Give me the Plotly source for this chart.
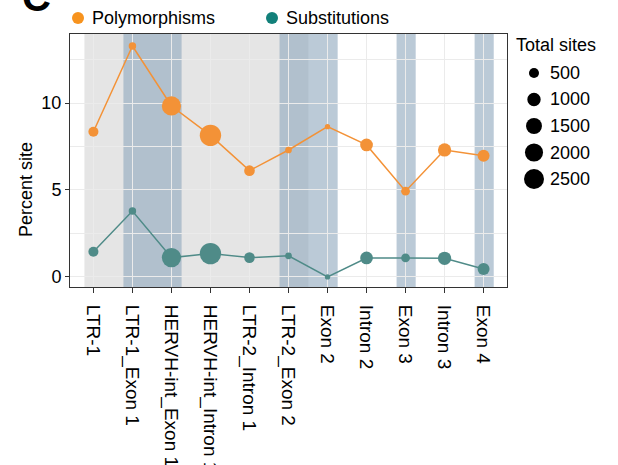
import numpy as np
import plotly.graph_objects as go

regions = ['LTR-1', 'LTR-1_Exon 1', 'HERVH-int_Exon 1', 'HERVH-int_Intron 1',
           'LTR-2_Intron 1', 'LTR-2_Exon 2', 'Exon 2', 'Intron 2', 'Exon 3',
           'Intron 3', 'Exon 4']
polymorphisms = [8.35, 13.28, 9.83, 8.14, 6.11, 7.30, 8.64, 7.59, 4.93, 7.30, 6.97]
substitutions = [1.45, 3.79, 1.11, 1.34, 1.11, 1.21, 0.0, 1.09, 1.09, 1.07, 0.46]
total_sites = [500, 230, 2300, 2900, 580, 170, 85, 880, 350, 980, 770]
size_breaks = [500, 1000, 1500, 2000, 2500]

# background structure bands (category units)
grey_band = (-0.23, 5.51)
exon_bands = [(0.77, 2.26), (4.77, 6.26), (7.77, 8.26), (9.77, 10.26)]

ORANGE = '#f39237'
TEAL = '#4f8b88'
FONT = 'Liberation Sans, Arial, sans-serif'

# plot area in pixels
L, R, T, B = 70, 507, 34, 287


def px_x(p):
    return (p - L) / (R - L)


def px_y(p):
    return (B - p) / (B - T)


def diam(n):
    return 2 + 0.36 * np.sqrt(n)


x = list(range(len(regions)))
sizes = [diam(n) for n in total_sites]

fig = go.Figure()
for vals, col in [(polymorphisms, ORANGE), (substitutions, TEAL)]:
    fig.add_trace(go.Scatter(
        x=x, y=vals, mode='lines+markers',
        line=dict(color=col, width=1.5),
        marker=dict(color=col, size=sizes, sizemode='diameter', opacity=1, line=dict(width=0)),
        showlegend=False, hoverinfo='skip'))

shapes = [dict(type='rect', xref='x', yref='paper', x0=grey_band[0], x1=grey_band[1],
               y0=0, y1=1, fillcolor='#e5e5e5', line_width=0, layer='between')]
for a, b in exon_bands:
    shapes.append(dict(type='rect', xref='x', yref='paper', x0=a, x1=b, y0=0, y1=1,
                       fillcolor='rgb(142,167,189)', opacity=0.6, line_width=0,
                       layer='between'))

annotations = []


def dot(cx, cy, d, col):
    shapes.append(dict(type='circle', xref='paper', yref='paper',
                       xsizemode='pixel', ysizemode='pixel',
                       xanchor=px_x(cx), yanchor=px_y(cy),
                       x0=-d / 2, x1=d / 2, y0=-d / 2, y1=d / 2,
                       fillcolor=col, line_width=0))


def label(tx, ty, text, size=18, xanchor='left'):
    annotations.append(dict(text=text, xref='paper', yref='paper', x=px_x(tx), y=px_y(ty),
                            xanchor=xanchor, yanchor='middle', showarrow=False,
                            font=dict(family=FONT, size=size, color='black')))


# top legend
dot(78, 18, 12, '#f7931e')
label(90, 18, 'Polymorphisms')
dot(272, 18, 12, '#12807a')
label(284, 18, 'Substitutions')

# size legend
label(514, 45, 'Total sites')
for i, n in enumerate(size_breaks):
    cy = 73 + i * 26.5
    dot(534, cy, diam(n), 'black')
    label(548, cy, str(n))

# y axis title
annotations.append(dict(text='Percent site', xref='paper', yref='paper', x=px_x(26), y=px_y(190),
                        textangle=-90, xanchor='center', yanchor='middle', showarrow=False,
                        font=dict(family=FONT, size=18, color='black')))
# panel letter
annotations.append(dict(text='<b>C</b>', xref='paper', yref='paper', x=px_x(36), y=px_y(-3),
                        xanchor='center', yanchor='middle', showarrow=False,
                        font=dict(family=FONT, size=40, color='black')))

fig.update_layout(
    width=618, height=465,
    margin=dict(l=L, r=618 - R, t=T, b=465 - B),
    plot_bgcolor='white', paper_bgcolor='white',
    font=dict(family=FONT, size=18, color='black'),
    shapes=shapes, annotations=annotations,
    showlegend=False,
    xaxis=dict(range=[-0.6, 10.6], tickvals=x, ticktext=regions, tickangle=90,
               showgrid=True, gridcolor='#ebebeb', gridwidth=1, automargin=False,
               ticks='outside', ticklen=5, tickcolor='#333333', ticklabelstandoff=8,
               showline=True, linecolor='#333333', linewidth=1, mirror=True,
               zeroline=False, tickfont=dict(size=19)),
    yaxis=dict(range=[-0.58, 13.97], tickvals=[0, 5, 10], automargin=False,
               showgrid=True, gridcolor='#ebebeb', gridwidth=1,
               minor=dict(tickvals=[2.5, 7.5, 12.5], showgrid=True, gridcolor='#ebebeb',
                          gridwidth=0.6),
               ticks='outside', ticklen=4, tickcolor='#333333',
               showline=True, linecolor='#333333', linewidth=1, mirror=True,
               zeroline=False, tickfont=dict(size=18)),
)

fig.write_html('out.html', config={'displayModeBar': False},
               post_script="document.body.style.margin='0px';")
